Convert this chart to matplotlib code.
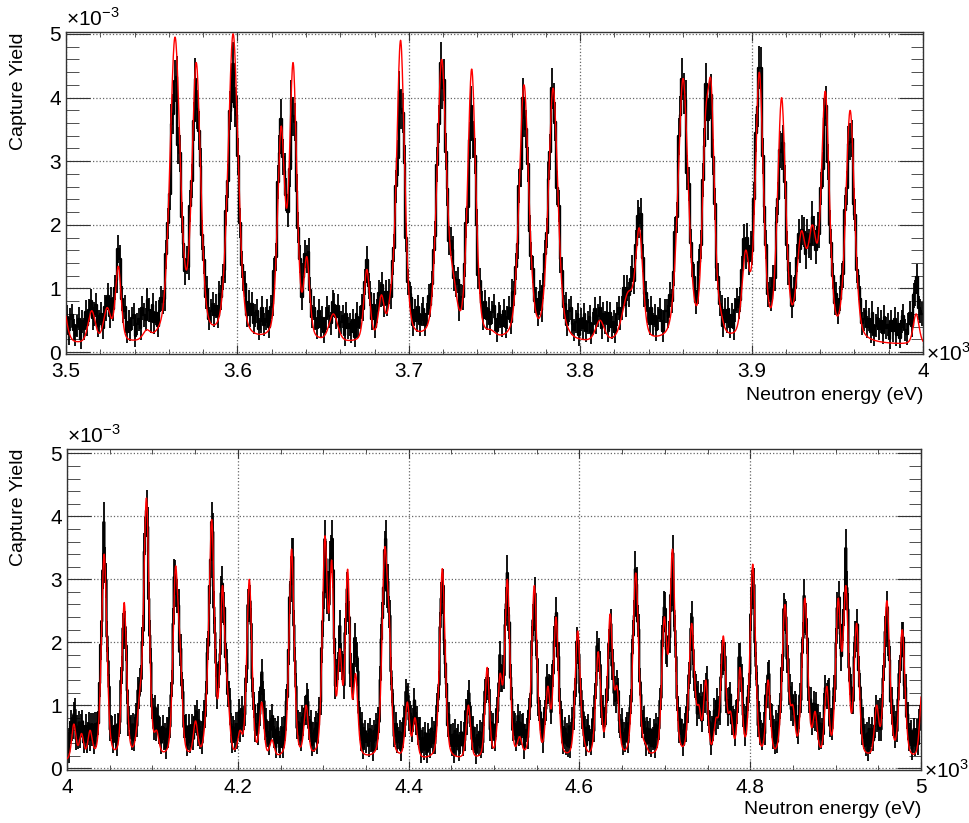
"""
Capture yield vs neutron energy: measured histogram (black) with resonance fit (red)
"""
import numpy as np
import matplotlib
matplotlib.use('Agg')
import matplotlib.pyplot as plt
from matplotlib.ticker import MultipleLocator, FuncFormatter

plt.rcParams['font.family'] = ['Liberation Sans', 'DejaVu Sans']
plt.rcParams['mathtext.fontset'] = 'custom'
plt.rcParams['mathtext.rm'] = 'Liberation Sans'

# Resonances: energy (eV), fitted peak (x1e-3),
# visible top of the data (x1e-3), width FWHM (eV)
top_e = [3497, 3515, 3524, 3530.5, 3547, 3554, 3563.6, 3576, 3597.5, 3606,
         3625.5, 3632.5, 3640.5, 3656, 3675.5, 3684, 3689.5, 3695.2, 3719.2, 3726,
         3736.7, 3748, 3767.2, 3784.2, 3792, 3811.5, 3828, 3834.5, 3860, 3873,
         3876.5, 3881.5, 3896.5, 3904.5, 3917.5, 3929, 3935.5, 3943, 3957.5, 3996]
top_fit = [1.0, 0.65, 0.7, 1.35, 0.35, 0.4, 4.95, 4.55, 5.0, 0.4,
           3.55, 4.55, 1.5, 0.6, 1.3, 0.9, 1.0, 4.9, 4.6, 1.25,
           4.45, 0.35, 4.2, 4.15, 0.45, 0.5, 0.95, 1.95, 4.3, 3.7,
           4.2, 0.75, 1.6, 4.4, 4.0, 1.9, 2.0, 4.1, 3.8, 0.6]
top_data = [0.9, 0.9, 0.95, 1.75, 0.9, 0.7, 4.55, 4.45, 4.7, 0.95,
            3.9, 4.25, 1.85, 0.9, 1.5, 1.2, 1.3, 4.45, 4.7, 1.6,
            4.05, 0.8, 4.1, 4.25, 0.85, 0.8, 1.2, 2.45, 4.6, 4.0,
            4.1, 1.0, 2.0, 4.8, 3.7, 2.15, 2.2, 3.95, 3.75, 1.25]
top_w = [6, 5, 5, 4, 5, 6, 7, 6, 7, 6,
         5, 5, 4, 6, 4, 4, 4, 5.5, 6.5, 5,
         5.5, 6, 6.5, 6.5, 5, 6, 8, 5, 7, 4.5,
         4.5, 4, 5, 5.5, 5.5, 6, 6, 5.5, 6, 4]

bot_e = [4008, 4017, 4027, 4043.5, 4067, 4085, 4093, 4105, 4127, 4132.5,
         4150.5, 4163, 4169.4, 4182, 4188, 4202.5, 4213.5, 4228, 4240, 4263,
         4280, 4302, 4310, 4319.5, 4328.6, 4338, 4372, 4377.5, 4398.5, 4407.5,
         4439.5, 4470, 4492, 4507, 4515.6, 4530, 4547.2, 4563, 4572.6, 4598,
         4605, 4622, 4636, 4644, 4666, 4677, 4699.4, 4709, 4731.5, 4740,
         4748, 4760, 4768.5, 4777, 4788, 4803, 4821, 4840.7, 4850, 4864,
         4876, 4889.6, 4903, 4912, 4924.6, 4948, 4960, 4978, 5002]
bot_fit = [0.7, 0.55, 0.6, 3.4, 2.63, 1.2, 4.29, 0.6, 3.2, 2.0,
           0.75, 1.1, 3.95, 2.9, 1.3, 0.6, 3.0, 1.05, 0.45, 3.48,
           1.0, 3.69, 3.3, 1.9, 3.16, 1.5, 3.5, 2.4, 1.05, 0.8,
           3.17, 1.0, 1.6, 1.5, 3.0, 0.5, 2.9, 1.3, 2.4, 2.18,
           0.5, 1.85, 2.45, 1.3, 3.1, 0.4, 2.4, 3.48, 2.3, 1.0,
           1.4, 0.8, 2.1, 0.9, 1.6, 3.24, 1.4, 2.6, 1.0, 2.7,
           0.9, 1.3, 2.7, 2.9, 2.3, 1.0, 2.66, 2.2, 1.4]
bot_data = [1.05, 0.85, 0.85, 3.88, 2.6, 1.5, 4.3, 1.0, 3.37, 2.2,
            1.0, 1.4, 4.0, 3.16, 1.6, 1.0, 2.95, 1.6, 0.9, 3.66,
            1.3, 3.7, 3.98, 2.3, 3.1, 2.29, 3.71, 2.65, 1.4, 1.1,
            3.1, 1.29, 1.68, 1.8, 3.13, 0.9, 2.85, 1.6, 2.63, 2.15,
            0.9, 2.13, 2.4, 1.5, 3.24, 0.8, 2.74, 3.4, 2.39, 1.3,
            1.55, 1.1, 2.1, 1.2, 1.97, 3.2, 1.66, 2.71, 1.3, 2.82,
            1.2, 1.5, 2.9, 3.45, 2.45, 1.07, 2.6, 2.29, 1.3]
bot_w = [6, 6, 6, 7.5, 6.5, 7, 7.5, 6, 7, 6,
         6, 6, 7.5, 6.5, 6, 6, 7, 6, 6, 7,
         6, 7, 6, 6, 6.5, 6, 7.5, 6, 6, 6,
         7.5, 6, 6, 6, 7, 6, 7.5, 6, 7, 7,
         6, 7, 7, 6, 8, 6, 7, 7.5, 7.5, 6,
         6, 6, 7, 6, 6, 7.5, 6, 8, 6, 8,
         6, 6, 7, 7, 7, 6, 8, 7.5, 7]

# bin-to-bin scatter of the data, in units of one standard deviation
jitter = [0.3, -0.8, 0.5, 0.9, -0.2, -0.6, 0.1, 0.7, -0.9, 0.4,
          -0.3, 0.8, -0.5, 0.2, 0.6, -0.7, -0.1, 0.9, -0.4, 0.0,
          0.5, -0.9, 0.3, -0.2, 0.7, -0.6, 0.8, -0.3, 0.1, -0.8,
          0.4, 0.6, -0.5, -0.1, 0.9, -0.7, 0.2, -0.4, 0.5, 0.8,
          -0.9, 0.0, 0.3, -0.6, 0.7, -0.2, -0.8, 0.6, 0.1, -0.5,
          0.9, -0.3, 0.4, -0.7, 0.2, 0.8, -0.1, -0.9, 0.5, 0.3,
          -0.4, 0.7, -0.6, 0.0, 0.6, -0.8, 0.9, -0.2, 0.1, -0.5,
          0.4, -0.9, 0.8, -0.3, 0.2, 0.5, -0.7, -0.1, 0.7, -0.4,
          0.3, -0.6, 0.9, -0.8, 0.0, 0.6, -0.2, 0.4, -0.5, 0.8,
          -0.1, 0.2, -0.9, 0.5, -0.3, 0.7, -0.6]

bkg_fit = 0.1      # smooth background under the fit
bkg_data = 0.35    # background level of the data


def shape(E, c, w, eta=0.35):
    # pseudo-Voigt line shape, peak value 1
    x = (E - c) / (w / 2.0)
    return (1 - eta) * np.exp(-np.log(2) * x ** 2) + eta / (1 + x ** 2)


def resonances(E, cen, hts, wid, bkg):
    # sum of lines scaled so that the curve goes through the given peak heights
    cen = np.asarray(cen, float)
    wid = np.asarray(wid, float)
    M = np.array([[shape(ci, cj, wj) for cj, wj in zip(cen, wid)] for ci in cen])
    amp = np.linalg.lstsq(M, np.asarray(hts) - bkg, rcond=None)[0]
    amp = np.clip(amp, 0, None)
    out = np.full_like(E, bkg, dtype=float)
    for c, w, a in zip(cen, wid, amp):
        out += a * shape(E, c, w)
    return out


def panel(ax, lo, hi, binw, cen, fit, data, wid, major, minor, ymax):
    # data histogram with error bars
    xb = np.arange(lo + binw / 2, hi, binw)
    centre = (np.asarray(data) - 0.2) / 1.02
    yb = resonances(xb, cen, centre, wid, bkg_data)
    sig = 0.18 + 0.05 * yb
    scatter = np.array([jitter[i % len(jitter)] for i in range(len(xb))])
    yb = np.clip(yb + sig * scatter, 0, None)
    ax.errorbar(xb / 1000, yb, yerr=0.16 + 0.04 * yb, fmt='none', ecolor='k',
                elinewidth=1.3, zorder=2)
    ax.step(xb / 1000, yb, where='mid', color='k', lw=1.7, zorder=2)

    # fitted curve
    xf = np.arange(lo, hi + 0.1, 0.2)
    yf = resonances(xf, cen, fit, wid, bkg_fit)
    ax.plot(xf / 1000, yf, color='red', lw=1.0, zorder=3)

    ax.set_xlim(lo / 1000, hi / 1000)
    ax.set_ylim(-0.03, ymax)
    ax.xaxis.set_major_locator(MultipleLocator(major))
    ax.xaxis.set_minor_locator(MultipleLocator(minor))
    ax.yaxis.set_major_locator(MultipleLocator(1))
    ax.yaxis.set_minor_locator(MultipleLocator(0.2))
    ax.xaxis.set_major_formatter(FuncFormatter(lambda v, p: '%g' % round(v, 3)))
    ax.yaxis.set_major_formatter(FuncFormatter(lambda v, p: '%g' % round(v, 3)))
    ax.tick_params(which='both', direction='in', top=True, right=True,
                   labelsize=15, color='#333333')
    ax.tick_params(axis='y', which='major', length=17)
    ax.tick_params(axis='y', which='minor', length=9)
    ax.tick_params(axis='x', which='major', length=6.5, pad=6)
    ax.tick_params(axis='x', which='minor', length=3.5)
    ax.grid(True, which='major', ls=':', color='#666666', lw=0.9)
    for s in ax.spines.values():
        s.set_color('#333333')
        s.set_linewidth(1.0)
    ax.text(0.0, 1.006, '×10$^{-3}$', transform=ax.transAxes, fontsize=15,
            ha='left', va='bottom')
    ax.text(1.003, 0.0, '×10$^{3}$', transform=ax.transAxes, fontsize=15,
            ha='left', va='center')


fig = plt.figure(figsize=(9.69, 8.23), dpi=100)
ax1 = fig.add_axes([66 / 969, 1 - 354 / 823, 857 / 969, 322 / 823])
ax2 = fig.add_axes([67 / 969, 1 - 770 / 823, 854 / 969, 321 / 823])

panel(ax1, 3500, 4000, 1.0, top_e, top_fit, top_data, top_w, 0.1, 0.02, 5.03)
panel(ax2, 4000, 5000, 1.25, bot_e, bot_fit, bot_data, bot_w, 0.2, 0.05, 5.07)

fig.text(19 / 969, 1 - 32 / 823, 'Capture Yield', rotation=90, ha='center',
         va='top', fontsize=14)
fig.text(19 / 969, 1 - 448 / 823, 'Capture Yield', rotation=90, ha='center',
         va='top', fontsize=14)
fig.text(923 / 969, 1 - 395 / 823, 'Neutron energy (eV)', ha='right',
         va='center', fontsize=14)
fig.text(921 / 969, 1 - 810 / 823, 'Neutron energy (eV)', ha='right',
         va='center', fontsize=14)

fig.savefig('out.png', dpi=100)
